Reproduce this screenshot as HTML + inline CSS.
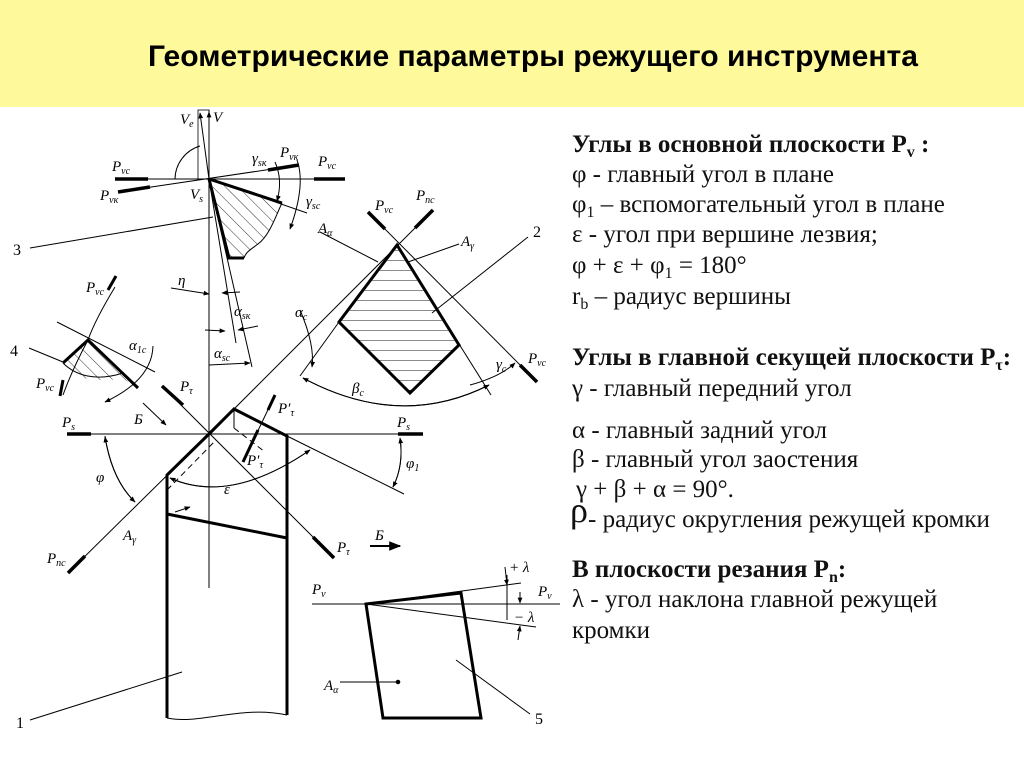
<!DOCTYPE html>
<html><head><meta charset="utf-8"><style>
body{margin:0;width:1024px;height:767px;overflow:hidden;background:#fff}
svg{display:block}
.t{font-family:"Liberation Serif",serif;font-size:25px;fill:#111}
.h{font-weight:bold}
.l{font-family:"Liberation Serif",serif;font-style:italic;font-size:15px;fill:#000}
.n{font-family:"Liberation Serif",serif;font-size:16px;fill:#000}
</style></head><body>
<svg width="1024" height="767" viewBox="0 0 1024 767" xmlns="http://www.w3.org/2000/svg">
<defs>
<pattern id="hd" patternUnits="userSpaceOnUse" width="9" height="9" patternTransform="rotate(-45)"><line x1="0" y1="0" x2="0" y2="9" stroke="#000" stroke-width="0.8"/></pattern>
<pattern id="hh" patternUnits="userSpaceOnUse" width="10" height="10"><line x1="0" y1="0" x2="10" y2="0" stroke="#000" stroke-width="0.9"/></pattern>
<marker id="a" viewBox="0 0 10 10" refX="9" refY="5" markerWidth="6" markerHeight="6" orient="auto"><path d="M0,1 L10,5 L0,9z" fill="#000"/></marker>
</defs>
<rect x="0" y="0" width="1024" height="107" fill="#fefa9c"/>
<text x="148" y="66" textLength="770" lengthAdjust="spacingAndGlyphs" style="font-family:'Liberation Sans',sans-serif;font-weight:bold;font-size:30px">Геометрические параметры режущего инструмента</text>

<g class="t">
<text x="572" y="152" class="h">Углы в основной плоскости P<tspan font-size="16" dy="5">v</tspan><tspan dy="-5"> :</tspan></text>
<text x="572" y="182">φ - главный угол в плане</text>
<text x="572" y="212">φ<tspan font-size="16" dy="5">1</tspan><tspan dy="-5"> – вспомогательный угол в плане</tspan></text>
<text x="572" y="242">ε - угол при вершине лезвия;</text>
<text x="572" y="273">φ + ε + φ<tspan font-size="16" dy="5">1</tspan><tspan dy="-5"> = 180°</tspan></text>
<text x="572" y="304">r<tspan font-size="16" dy="5">b</tspan><tspan dy="-5"> – радиус вершины</tspan></text>
<text x="572" y="365" class="h">Углы в главной секущей плоскости P<tspan font-size="16" dy="5">τ</tspan><tspan dy="-5">:</tspan></text>
<text x="572" y="396">γ - главный передний угол</text>
<text x="572" y="438">α - главный задний угол</text>
<text x="572" y="467">β - главный угол заостения</text>
<text x="576" y="497">γ + β + α = 90°.</text>
<text x="570" y="522" font-size="36">ρ</text>
<text x="588" y="527">- радиус округления режущей кромки</text>
<text x="572" y="577" class="h">В плоскости резания P<tspan font-size="16" dy="5">n</tspan><tspan dy="-5">:</tspan></text>
<text x="572" y="607">λ - угол наклона главной режущей</text>
<text x="572" y="638">кромки</text>
</g>

<g stroke="#000" fill="none" stroke-width="1">
<line x1="209" y1="110" x2="209" y2="588"/>
<line x1="209" y1="179" x2="209" y2="112" marker-end="url(#a)"/>
<rect x="198" y="110" width="11" height="69" stroke-width="0.8"/>
<line x1="209" y1="179" x2="200" y2="113" marker-end="url(#a)"/>
<path d="M175,179 A35,35 0 0 1 200,146" />
<line x1="115" y1="179" x2="345" y2="179"/>
<line x1="115" y1="179" x2="148" y2="179" stroke-width="3.5"/>
<line x1="314" y1="179" x2="345" y2="179" stroke-width="3.5"/>
<line x1="118" y1="192" x2="299" y2="165"/>
<line x1="118" y1="192" x2="150" y2="187" stroke-width="3.5"/>
<line x1="268" y1="170" x2="299" y2="165" stroke-width="3.5"/>
<path d="M209,179 L282,203 C276,215 270,235 258,244 C250,250 246,252 244,258 L229,258 Z" fill="url(#hd)" stroke="none"/>
<path d="M209,179 L282,203 M209,179 L229,258 L244,258" stroke-width="3"/>
<path d="M282,203 C276,215 270,235 258,244 C250,250 246,252 244,258"/>
<line x1="209" y1="179" x2="307" y2="213"/>
<line x1="209" y1="179" x2="236" y2="343"/>
<line x1="209" y1="179" x2="252" y2="367"/>
<line x1="30" y1="248" x2="213" y2="217"/>
<path d="M275,162 Q283,180 277,201" marker-end="url(#a)"/>
<path d="M297,160 Q306,185 290,229" marker-end="url(#a)"/>
<line x1="171" y1="288" x2="209" y2="294" marker-end="url(#a)"/>
<line x1="240" y1="292" x2="222" y2="293" marker-end="url(#a)"/>
<line x1="205" y1="330" x2="225" y2="331" marker-end="url(#a)"/>
<line x1="258" y1="326" x2="238" y2="330" marker-end="url(#a)"/>
<line x1="209" y1="365" x2="250" y2="363" marker-end="url(#a)"/>
<path d="M397,245 L459,345 L410,393 L339,322 Z" fill="url(#hh)" stroke-width="3"/>
<line x1="209" y1="434" x2="433" y2="210"/>
<line x1="415" y1="228" x2="433" y2="210" stroke-width="3.5"/>
<line x1="368" y1="212" x2="537" y2="382"/>
<line x1="368" y1="212" x2="385" y2="229" stroke-width="3.5"/>
<line x1="520" y1="365" x2="537" y2="382" stroke-width="3.5"/>
<line x1="397" y1="245" x2="491" y2="395"/>
<line x1="320" y1="232" x2="378" y2="262"/>
<line x1="459" y1="244" x2="408" y2="262"/>
<line x1="528" y1="237" x2="432" y2="313"/>
<line x1="339" y1="322" x2="300" y2="376"/>
<path d="M300,310 Q315,345 312,367" marker-end="url(#a)"/>
<path d="M303,378 Q400,430 489,385" marker-end="url(#a)"/>
<path d="M489,385 Q400,430 303,378" marker-end="url(#a)"/>
<path d="M470,385 Q500,377 515,363" marker-end="url(#a)"/>
<path d="M88,340 L138,388 L125,380 C110,378 95,383 82,377 L63,363 Z" fill="url(#hd)" stroke="none"/>
<path d="M63,363 L88,340 L138,388" stroke-width="3"/>
<path d="M63,363 C75,375 95,382 123,373"/>
<line x1="57" y1="322" x2="155" y2="372"/>
<path d="M115,287 Q95,320 88,340 Q72,370 63,395"/>
<line x1="108" y1="290" x2="116" y2="276" stroke-width="3"/>
<line x1="63" y1="380" x2="60" y2="396" stroke-width="3"/>
<line x1="29" y1="348" x2="63" y2="362"/>
<path d="M153,346 Q152,380 105,402" marker-end="url(#a)"/>
<line x1="143" y1="403" x2="166" y2="425" marker-end="url(#a)"/>
<line x1="68" y1="434" x2="423" y2="434"/>
<line x1="67" y1="434" x2="91" y2="434" stroke-width="3.5"/>
<line x1="398" y1="434" x2="423" y2="434" stroke-width="3.5"/>
<path d="M167,718 L167,475 L209,434 L234,409 L287,436 L287,715" stroke-width="3" stroke-linejoin="miter"/>
<path d="M167,718 C200,725 240,705 287,715"/>
<line x1="167" y1="514" x2="287" y2="538" stroke-width="3"/>
<line x1="175" y1="512" x2="190" y2="507" marker-end="url(#a)"/>
<line x1="162" y1="386" x2="334" y2="558"/>
<line x1="162" y1="386" x2="183" y2="405" stroke-width="3.5"/>
<line x1="313" y1="537" x2="334" y2="558" stroke-width="3.5"/>
<line x1="209" y1="434" x2="68" y2="573"/>
<line x1="85" y1="556" x2="68" y2="573" stroke-width="3.5"/>
<line x1="287" y1="436" x2="404" y2="494"/>
<line x1="275" y1="395" x2="243" y2="462"/>
<line x1="258" y1="430" x2="243" y2="462" stroke-width="3"/>
<line x1="275" y1="395" x2="268" y2="410" stroke-width="3"/>
<line x1="234" y1="409" x2="234" y2="428"/>
<path d="M234,428 L265,452 M167,490 L216,440" stroke-dasharray="6,4"/>
<path d="M170,478 Q230,505 310,450" marker-end="url(#a)"/>
<path d="M310,450 Q230,505 170,478" marker-end="url(#a)"/>
<path d="M105,436 Q112,480 135,502" marker-end="url(#a)"/>
<path d="M135,502 Q112,480 105,437" marker-end="url(#a)"/>
<path d="M400,438 Q404,465 393,487" marker-end="url(#a)"/>
<path d="M393,487 Q404,465 400,438" marker-end="url(#a)"/>
<line x1="370" y1="546" x2="400" y2="546" stroke-width="2" marker-end="url(#a)"/>
<line x1="30" y1="720" x2="182" y2="672"/>
<line x1="312" y1="604" x2="560" y2="604"/>
<path d="M366,604 L461,593 L481,718 L383,718 Z" stroke-width="3"/>
<line x1="366" y1="604" x2="521" y2="583"/>
<line x1="366" y1="604" x2="536" y2="627"/>
<line x1="340" y1="682" x2="397" y2="682"/>
<circle cx="398" cy="682" r="1.8" fill="#000"/>
<line x1="456" y1="660" x2="530" y2="714"/>
<line x1="507" y1="575" x2="507" y2="620"/>
<line x1="505" y1="567" x2="507" y2="585" marker-end="url(#a)"/>
<line x1="520" y1="592" x2="520" y2="603" marker-end="url(#a)"/>
<line x1="518" y1="640" x2="520" y2="626" marker-end="url(#a)"/>
</g>

<g class="l">
<text x="180" y="124">V<tspan font-size="10" dy="3">e</tspan></text>
<text x="213" y="122">V</text>
<text x="112" y="171">P<tspan font-size="10" dy="3">vc</tspan></text>
<text x="318" y="166">P<tspan font-size="10" dy="3">vc</tspan></text>
<text x="100" y="200">P<tspan font-size="10" dy="3">vк</tspan></text>
<text x="190" y="199">V<tspan font-size="10" dy="3">s</tspan></text>
<text x="252" y="163">γ<tspan font-size="10" dy="3">sк</tspan></text>
<text x="280" y="157">P<tspan font-size="10" dy="3">vк</tspan></text>
<text x="306" y="206">γ<tspan font-size="10" dy="3">sc</tspan></text>
<text x="178" y="285">η</text>
<text x="234" y="316">α<tspan font-size="10" dy="3">sк</tspan></text>
<text x="214" y="358">α<tspan font-size="10" dy="3">sc</tspan></text>
<text x="375" y="210">P<tspan font-size="10" dy="3">vc</tspan></text>
<text x="416" y="200">P<tspan font-size="10" dy="3">пc</tspan></text>
<text x="318" y="233">A<tspan font-size="10" dy="3">α</tspan></text>
<text x="461" y="246">A<tspan font-size="10" dy="3">γ</tspan></text>
<text x="295" y="317">α<tspan font-size="10" dy="3">c</tspan></text>
<text x="352" y="393">β<tspan font-size="10" dy="3">c</tspan></text>
<text x="496" y="369">γ<tspan font-size="10" dy="3">c</tspan></text>
<text x="528" y="363">P<tspan font-size="10" dy="3">vc</tspan></text>
<text x="86" y="292">P<tspan font-size="10" dy="3">vc</tspan></text>
<text x="36" y="388">P<tspan font-size="10" dy="3">vc</tspan></text>
<text x="129" y="350">α<tspan font-size="10" dy="3">1c</tspan></text>
<text x="180" y="391">P<tspan font-size="10" dy="3">τ</tspan></text>
<text x="134" y="424">Б</text>
<text x="62" y="427">P<tspan font-size="10" dy="3">s</tspan></text>
<text x="397" y="427">P<tspan font-size="10" dy="3">s</tspan></text>
<text x="278" y="413">P′<tspan font-size="10" dy="3">τ</tspan></text>
<text x="247" y="465">P′<tspan font-size="10" dy="3">τ</tspan></text>
<text x="96" y="482">φ</text>
<text x="224" y="494">ε</text>
<text x="406" y="468">φ<tspan font-size="10" dy="3">1</tspan></text>
<text x="123" y="540">A<tspan font-size="10" dy="3">γ</tspan></text>
<text x="47" y="563">P<tspan font-size="10" dy="3">пc</tspan></text>
<text x="337" y="552">P<tspan font-size="10" dy="3">τ</tspan></text>
<text x="375" y="540">Б</text>
<text x="312" y="594">P<tspan font-size="10" dy="3">v</tspan></text>
<text x="538" y="596">P<tspan font-size="10" dy="3">v</tspan></text>
<text x="509" y="572">+ λ</text>
<text x="514" y="622">− λ</text>
<text x="324" y="690">A<tspan font-size="10" dy="3">α</tspan></text>
</g>
<g class="n">
<text x="13" y="255">3</text>
<text x="533" y="237">2</text>
<text x="10" y="356">4</text>
<text x="16" y="728">1</text>
<text x="535" y="724">5</text>
</g>
</svg>
</body></html>
